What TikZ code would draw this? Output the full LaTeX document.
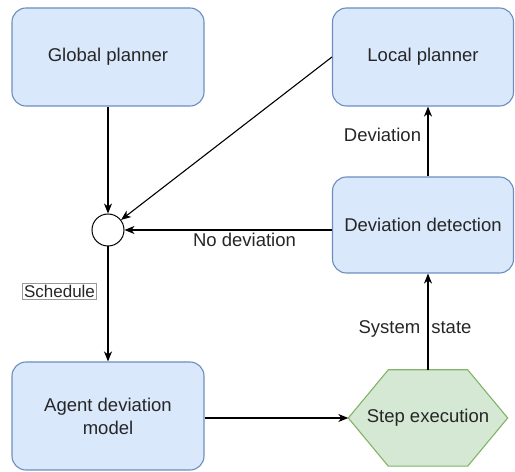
\documentclass[tikz,border=0pt]{standalone}
\usepackage{fontspec}
\setmainfont{Liberation Sans}
\usepackage[svgnames]{xcolor}
\usepackage{tikz}
\usetikzlibrary{arrows.meta}
\usetikzlibrary{backgrounds}
\usetikzlibrary{positioning}

\definecolor{boxfill}{HTML}{DAE8FC}
\definecolor{boxline}{HTML}{6C8EBF}
\definecolor{hexfill}{HTML}{D5E8D4}
\definecolor{hexline}{HTML}{82B366}

\begin{document}
\begin{tikzpicture}
          [x=1pt, y=1pt,
           every node/.style={text=black!85, font=\fontsize{18.5}{23}\selectfont, align=center},
           blockbox/.style={draw=boxline, fill=boxfill, line width=1.1pt, rounded corners=14pt},
           junction/.style={draw, circle, fill=white, minimum size=32pt, inner sep=0pt, line width=1pt},
           flow/.style={->, line width=1.1pt, >={Stealth[length=10pt, width=8pt, inset=3pt]}}]
          \useasboundingbox (0,0) rectangle (515,472);

          \node (gp) [blockbox, minimum width=192pt, minimum height=98pt] at (108,415) {Global planner};
          \node (lp) [blockbox, minimum width=181pt, minimum height=98pt] at (423,415) {Local planner};
          \node (mix) [junction] at (108,242) {};
          \node (dd) [blockbox, minimum width=181pt, minimum height=96pt] at (423,247) {Deviation detection};
          \node (adm) [blockbox, minimum width=192pt, minimum height=108pt] at (108,56) {Agent deviation\\model};
          \node (step) [minimum width=159pt, minimum height=96pt] at (428,54) {Step execution};

          % hexagon behind the step node
          \begin{scope}[on background layer]
            \draw[draw=hexline, fill=hexfill, line width=1.1pt]
              (step.west) -- ([xshift=40pt]step.north west) -- ([xshift=-40pt]step.north east)
              -- (step.east) -- ([xshift=-40pt]step.south east) -- ([xshift=40pt]step.south west) -- cycle;
          \end{scope}

          \node (sched) [draw=black!40, line width=0.6pt, inner sep=1.5pt,
                         font=\fontsize{17}{20}\selectfont] at (59.5,180.5) {Schedule};
          \node (nodev) at (244.5,232) {No deviation};
          \node (dev) at (382.5,337) {Deviation};
          \node (sysstate) at (415,143) {System\hspace{6pt} state};

          \draw[flow] (gp.south) -- (mix.north);
          \draw[flow] (lp.west) -- (mix);
          \draw[flow] (mix.east -| dd.west) -- (mix.east);
          \draw[flow] (mix.south) -- (adm.north);
          \draw[flow] (adm.east |- step.west) -- (step.west);
          \draw[flow] (step.north) -- (step.north |- dd.south);
          \draw[flow] (step.north |- dd.north) -- (step.north |- lp.south);

        \end{tikzpicture}
\end{document}
